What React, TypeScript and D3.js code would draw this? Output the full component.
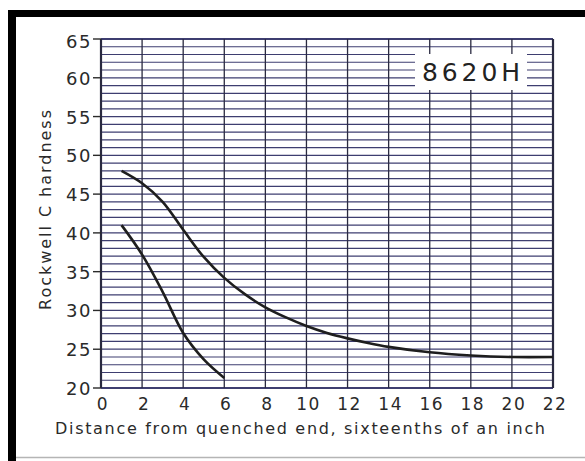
import { useEffect, useRef } from "react";
import * as d3 from "d3";

// Jominy distances (sixteenths of an inch) and hardness band limits (HRC)
const maxDistances = [1, 2, 3, 4, 5, 6, 7, 8, 9, 10, 11, 12, 13, 14, 16, 18, 20, 22];
const maxHardness = [48, 46.4, 44, 40.4, 36.9, 34.2, 32.1, 30.4, 29.1, 28, 27.1, 26.4, 25.8, 25.3, 24.6, 24.2, 24, 24];
const minDistances = [1, 2, 3, 4, 5, 6];
const minHardness = [41, 37.2, 32.4, 27.1, 23.7, 21.3];

const xTicks = [0, 2, 4, 6, 8, 10, 12, 14, 16, 18, 20, 22];
const yTicks = [20, 25, 30, 35, 40, 45, 50, 55, 60, 65];
const gradeLabel = "8620H";

export default function App() {
  const svgRef = useRef<SVGSVGElement | null>(null);

  useEffect(() => {
    if (!svgRef.current) return;
    const width = 585;
    const height = 461;
    const font = "'DejaVu Sans', sans-serif";
    const ink = "#2a2a2a";
    const gridColor = "#3e3e70";

    const svg = d3.select(svgRef.current);
    svg.selectAll("*").remove();
    svg.attr("width", width).attr("height", height);

    // page background + scan frame
    svg.append("rect").attr("width", width).attr("height", height).attr("fill", "#ffffff");
    svg.append("rect").attr("x", 8).attr("y", 10).attr("width", width - 8).attr("height", 7).attr("fill", "#000");
    svg.append("rect").attr("x", 8).attr("y", 10).attr("width", 8).attr("height", height - 10).attr("fill", "#000");
    svg.append("line")
      .attr("x1", 16).attr("x2", width).attr("y1", 457.5).attr("y2", 457.5)
      .attr("stroke", "#b5b5b5").attr("stroke-width", 1.5);

    const x = d3.scaleLinear().domain([0, 22]).range([101, 553]);
    const y = d3.scaleLinear().domain([20, 65]).range([388, 39]);

    // horizontal grid, one per HRC point
    svg.append("g")
      .selectAll("line")
      .data(d3.range(20, 66))
      .join("line")
      .attr("x1", x(0))
      .attr("x2", x(22))
      .attr("y1", d => y(d))
      .attr("y2", d => y(d))
      .attr("stroke", gridColor)
      .attr("stroke-width", d => (d === 20 || d === 65 ? 2 : 1.2));

    // vertical grid
    svg.append("g")
      .selectAll("line")
      .data(xTicks)
      .join("line")
      .attr("x1", d => x(d))
      .attr("x2", d => x(d))
      .attr("y1", y(65))
      .attr("y2", y(20))
      .attr("stroke", "#2a2a40")
      .attr("stroke-width", d => (d === 0 || d === 22 ? 2.2 : 1.3));

    // y tick marks + labels
    svg.append("g")
      .selectAll("line")
      .data(yTicks)
      .join("line")
      .attr("x1", x(0) - 8)
      .attr("x2", x(0))
      .attr("y1", d => y(d))
      .attr("y2", d => y(d))
      .attr("stroke", ink)
      .attr("stroke-width", 1.4);

    svg.append("g")
      .selectAll("text")
      .data(yTicks)
      .join("text")
      .attr("x", x(0) - 9)
      .attr("y", d => y(d) + (d === 65 ? 9 : 7))
      .attr("text-anchor", "end")
      .style("font-family", font)
      .style("font-size", "18px")
      .style("letter-spacing", "1.5px")
      .style("fill", ink)
      .text(d => `${d}`);

    // x labels
    svg.append("g")
      .selectAll("text")
      .data(xTicks)
      .join("text")
      .attr("x", d => x(d) + 2)
      .attr("y", 410)
      .attr("text-anchor", "middle")
      .style("font-family", font)
      .style("font-size", "17px")
      .style("letter-spacing", "1.5px")
      .style("fill", ink)
      .text(d => `${d}`);

    // axis titles
    svg.append("text")
      .attr("x", 300)
      .attr("y", 434)
      .attr("text-anchor", "middle")
      .attr("textLength", 490)
      .attr("lengthAdjust", "spacing")
      .style("font-family", font)
      .style("font-size", "16px")
      .style("fill", ink)
      .text("Distance from quenched end, sixteenths of an inch");

    svg.append("text")
      .attr("transform", "translate(51,210) rotate(-90)")
      .attr("text-anchor", "middle")
      .attr("textLength", 200)
      .attr("lengthAdjust", "spacing")
      .style("font-family", font)
      .style("font-size", "16px")
      .style("fill", ink)
      .text("Rockwell C hardness");

    // grade label box
    svg.append("rect")
      .attr("x", 415)
      .attr("y", 54)
      .attr("width", 112)
      .attr("height", 36)
      .attr("fill", "#ffffff");
    svg.append("text")
      .attr("x", 471)
      .attr("y", 81)
      .attr("text-anchor", "middle")
      .attr("textLength", 98)
      .attr("lengthAdjust", "spacing")
      .style("font-family", font)
      .style("font-size", "25px")
      .style("fill", "#222")
      .text(gradeLabel);

    // band curves
    const line = d3.line<[number, number]>()
      .x(d => x(d[0]))
      .y(d => y(d[1]))
      .curve(d3.curveCatmullRom.alpha(0.5));

    const maxData = maxDistances.map((d, i) => [d, maxHardness[i]] as [number, number]);
    const minData = minDistances.map((d, i) => [d, minHardness[i]] as [number, number]);

    [maxData, minData].forEach(data => {
      svg.append("path")
        .datum(data)
        .attr("fill", "none")
        .attr("stroke", "#1e1e1e")
        .attr("stroke-width", 2.6)
        .attr("d", line);
    });
  }, []);

  return (
    <svg
      ref={svgRef}
      style={{ position: "absolute", left: 0, top: 0, display: "block" }}
    />
  );
}
